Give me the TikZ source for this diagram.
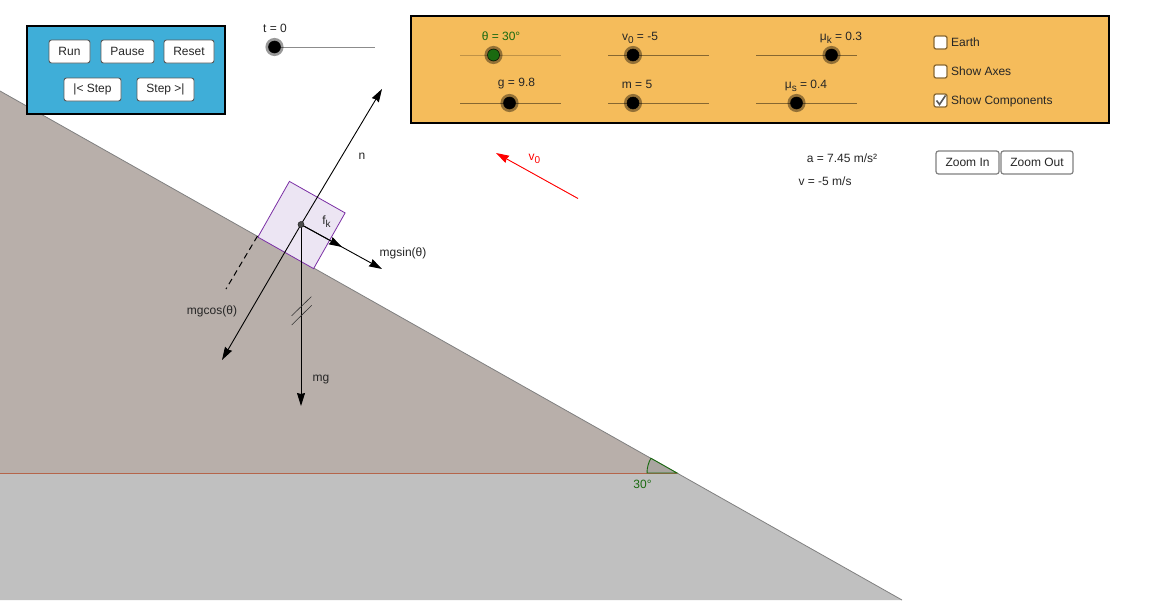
\documentclass[tikz,border=0pt]{standalone}
\usepackage{fontspec}
\setmainfont{Liberation Sans}
\usetikzlibrary{arrows.meta}
\pgfdeclarelayer{background}
\pgfdeclarelayer{foreground}
\pgfsetlayers{background,main,foreground}
\definecolor{panelblue}{HTML}{3FAED8}
\definecolor{panelorange}{HTML}{F5BC5B}
\definecolor{slopefill}{HTML}{B8AFAA}
\definecolor{floorfill}{HTML}{C0C0C0}
\definecolor{floorline}{HTML}{B5654A}
\definecolor{anglefill}{HTML}{A9A5A0}
\definecolor{blockfill}{HTML}{ECE5F3}
\definecolor{blockedge}{HTML}{7B2FA5}
\definecolor{anglegreen}{HTML}{1A6A10}
\newcommand{\lowidx}[1]{\raisebox{-3pt}{\fontsize{10}{10}\selectfont #1}}

\begin{document}
\begin{tikzpicture}[
				x=1pt, y=-1pt,
				font=\fontsize{12}{14}\selectfont,
				textnode/.style={inner sep=0pt, text=black!85},
				panelnode/.style={draw=black, line width=2.5pt, inner sep=0pt},
				buttonnode/.style={draw=black!65, fill=white, rounded corners=2.5pt, line width=0.9pt, minimum height=23pt, inner sep=0pt, text=black!85},
				zoomnode/.style={buttonnode, draw=black!50, line width=1.2pt},
				thumbnode/.style={circle, fill=black, draw=black, line width=0.5pt, minimum size=12pt, inner sep=0pt, preaction={draw=black, draw opacity=0.4, line width=6pt}},
				trackline/.style={draw=black, draw opacity=0.45, line width=0.8pt},
				checknode/.style={draw=black!30!panelorange!80!black, fill=white, rounded corners=2pt, line width=1.3pt, minimum size=13pt, inner sep=0pt},
				vector/.style={draw=black, line width=0.9pt, -{Stealth[length=13pt, width=8pt, inset=1pt]}},
				]
				\useasboundingbox (0,0) rectangle (1150,600);

				\begin{pgfonlayer}{background}
				%Ground
				\fill[white] (0,0) rectangle (1150,600);
				\fill[floorfill] (0,473) -- (677,473) -- (902,600) -- (0,600) -- cycle;
				\fill[slopefill] (0,91) -- (677,473) -- (0,473) -- cycle;
				\draw[black!50, line width=0.8pt] (0,91) -- (902,600);
				\draw[floorline, line width=1pt] (0,473) -- (677,473);
				\filldraw[draw=anglegreen, fill=anglefill, line width=0.9pt] (677,473) -- (647,473) arc (180:209.5:30) -- cycle;
				\end{pgfonlayer}

				%Panels
				\node[panelnode, fill=panelblue, minimum width=198pt, minimum height=88pt]    (controls) at (126,70)    {};
				\node[panelnode, fill=panelorange, minimum width=698pt, minimum height=107pt] (settings) at (760,69.5)  {};

				%Buttons
				\node[buttonnode, minimum width=41pt] (run)      at (69.5,51.5)  {Run};
				\node[buttonnode, minimum width=53pt] (pause)    at (127.5,51.5) {Pause};
				\node[buttonnode, minimum width=50pt] (reset)    at (189,51.5)   {Reset};
				\node[buttonnode, minimum width=57pt] (stepback) at (92.5,89.5)  {|< Step};
				\node[buttonnode, minimum width=57pt] (stepnext) at (165.5,89.5) {Step >|};
				\node[zoomnode, minimum width=63pt]   (zoomin)   at (967.5,162.5) {Zoom In};
				\node[zoomnode, minimum width=72pt]   (zoomout)  at (1037,162.5)  {Zoom Out};

				%Slider ends
				\coordinate (tstart)  at (274,47);
				\coordinate (tend)    at (375,47);
				\coordinate (thstart) at (460,55);
				\coordinate (thend)   at (561,55);
				\coordinate (vstart)  at (608,55);
				\coordinate (vend)    at (709,55);
				\coordinate (mkstart) at (756,55);
				\coordinate (mkend)   at (857,55);
				\coordinate (gstart)  at (460,103);
				\coordinate (gend)    at (561,103);
				\coordinate (mstart)  at (608,103);
				\coordinate (mend)    at (709,103);
				\coordinate (msstart) at (756,103);
				\coordinate (msend)   at (857,103);

				%Lines
				\draw[trackline] (tstart) -- (tend);
				\draw[trackline, draw opacity=0.22] (thstart) -- (thend);
				\draw[trackline] (vstart) -- (vend);
				\draw[trackline] (mkstart) -- (mkend);
				\draw[trackline] (gstart) -- (gend);
				\draw[trackline] (mstart) -- (mend);
				\draw[trackline] (msstart) -- (msend);

				\begin{pgfonlayer}{foreground}
				%Slider thumbs
				\node[thumbnode] (tthumb)  at (274.5,47) {};
				\node[thumbnode, fill=anglegreen] (ththumb) at (493.5,55) {};
				\node[thumbnode] (vthumb)  at (633,55)  {};
				\node[thumbnode] (mkthumb) at (831.5,55)  {};
				\node[thumbnode] (gthumb)  at (509.5,103) {};
				\node[thumbnode] (mthumb)  at (633,103) {};
				\node[thumbnode] (msthumb) at (796.5,103) {};
				\end{pgfonlayer}

				%Slider labels
				\node[textnode] (tlabel)  at (275,28)   {t = 0};
				\node[textnode, text=anglegreen] (thlabel) at (501,36) {θ = 30°};
				\node[textnode] (vlabel)  at (640,37.5) {v\lowidx{0} = -5};
				\node[textnode] (mklabel) at (841,37.5) {μ\lowidx{k} = 0.3};
				\node[textnode] (glabel)  at (516.5,84)   {g = 9.8};
				\node[textnode] (mlabel)  at (637,84)   {m = 5};
				\node[textnode] (mslabel) at (806,85.5) {μ\lowidx{s} = 0.4};

				%Checkboxes
				\node[checknode] (earthbox) at (940.5,42.5)  {};
				\node[checknode] (axesbox)  at (940.5,71.5)  {};
				\node[checknode] (compbox)  at (940.5,100.5) {};
				\node[textnode, anchor=west] (earthtext) at (951,42)  {Earth};
				\node[textnode, anchor=west] (axestext)  at (951,71)  {Show Axes};
				\node[textnode, anchor=west] (comptext)  at (951,101) {Show Components};
				\draw[black!65, line width=1.6pt] ([shift={(-4,0)}]compbox.center) -- ([shift={(-1,4)}]compbox.center) -- ([shift={(5,-5)}]compbox.center);

				%Readouts
				\node[textnode] (accel) at (842,158) {a = 7.45 m/s²};
				\node[textnode] (speed) at (825,181) {v = -5 m/s};

				%Block and force labels
				\node[draw=blockedge, fill=blockfill, line width=0.8pt, minimum size=64pt, inner sep=0pt, rotate=-29.5] (block) at (301.5,225) {};
				\node[textnode] (nlabel)     at (362,156)   {n};
				\node[textnode] (fklabel)    at (326.5,222)   {f\lowidx{k}};
				\node[textnode] (sinlabel)   at (403,253)   {mgsin(θ)};
				\node[textnode] (coslabel)   at (212,311)   {mgcos(θ)};
				\node[textnode] (mglabel)    at (321,380)   {mg};
				\node[textnode, text=red]    (v0label)    at (534.5,158.5) {v\lowidx{0}};
				\node[textnode, text=anglegreen] (anglelabel) at (642.5,484) {30°};

				%Vector ends
				\coordinate (nend)   at (382,89);
				\coordinate (cosend) at (222,360);
				\coordinate (sinend) at (382,269);
				\coordinate (fkend)  at (342,247);
				\coordinate (mgend)  at (301,406);
				\coordinate (v0start) at (578,198.5);
				\coordinate (v0end)  at (496,153);
				\coordinate (dashstart) at (257.5,236);
				\coordinate (dashend) at (226,289);
				\coordinate (tickastart) at (291.7,315.7);
				\coordinate (tickaend) at (311.3,296.7);
				\coordinate (tickbstart) at (291.7,325);
				\coordinate (tickbend) at (311.7,305.3);

				\begin{pgfonlayer}{foreground}
				\node[circle, fill=black!70, draw=black!85, line width=0.5pt, minimum size=6pt, inner sep=0pt] (pivot) at (301,224.5) {};
				\end{pgfonlayer}

				%Vectors
				\draw[vector] (pivot.center) -- (nend);
				\draw[vector] (pivot.center) -- (cosend);
				\draw[vector] (pivot.center) -- (sinend);
				\draw[vector] (pivot.center) -- (fkend);
				\draw[vector] (pivot.center) -- (mgend);
				\draw[vector, draw=red, fill=red] (v0start) -- (v0end);
				\draw[black, line width=1pt, dash pattern=on 6pt off 4pt] (dashstart) -- (dashend);
				\draw[black!80, line width=0.6pt] (tickastart) -- (tickaend);
				\draw[black!80, line width=0.6pt] (tickbstart) -- (tickbend);
			\end{tikzpicture}
\end{document}
